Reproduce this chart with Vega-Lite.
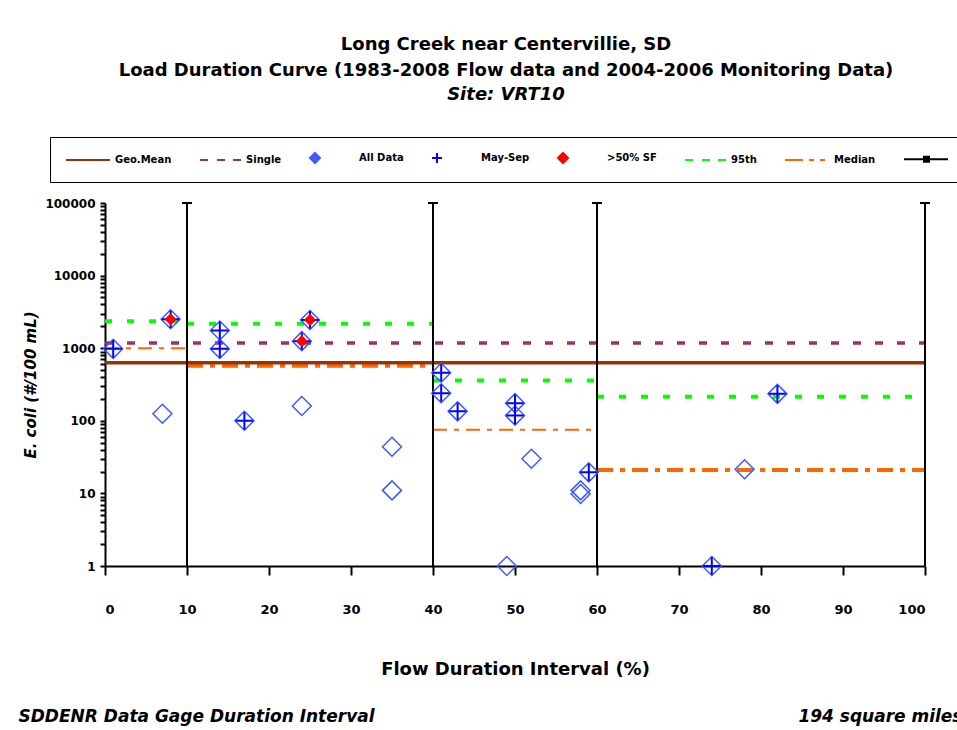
{
  "$schema": "https://vega.github.io/schema/vega-lite/v6.json",
  "width": 820,
  "height": 363,
  "autosize": "none",
  "padding": {"left": 105, "top": 203, "right": 32, "bottom": 164},
  "background": "white",
  "config": {"view": {"stroke": null}, "font": "DejaVu Sans"},
  "title": {
    "text": ["Long Creek near Centervillie, SD", "Load Duration Curve   (1983-2008 Flow data and 2004-2006 Monitoring Data)"],
    "subtitle": "Site:  VRT10",
    "anchor": "middle",
    "dx": -9,
    "font": "DejaVu Sans",
    "fontSize": 18,
    "fontWeight": "bold",
    "color": "black",
    "lineHeight": 26,
    "subtitleFont": "DejaVu Sans",
    "subtitleFontSize": 18,
    "subtitleFontStyle": "italic",
    "subtitleFontWeight": "bold",
    "subtitleColor": "black",
    "subtitlePadding": 6,
    "offset": 33
  },
  "resolve": {"axis": {"x": "independent", "y": "independent"}},
  "datasets": {
    "samples": [
      {"fdi": 1, "ecoli": 980, "maysep": true, "sf50": false},
      {"fdi": 7, "ecoli": 125, "maysep": false, "sf50": false},
      {"fdi": 8, "ecoli": 2500, "maysep": true, "sf50": true},
      {"fdi": 14, "ecoli": 1750, "maysep": true, "sf50": false},
      {"fdi": 14, "ecoli": 980, "maysep": true, "sf50": false},
      {"fdi": 17, "ecoli": 100, "maysep": true, "sf50": false},
      {"fdi": 24, "ecoli": 1250, "maysep": true, "sf50": true},
      {"fdi": 24, "ecoli": 160, "maysep": false, "sf50": false},
      {"fdi": 25, "ecoli": 2450, "maysep": true, "sf50": true},
      {"fdi": 35, "ecoli": 44, "maysep": false, "sf50": false},
      {"fdi": 35, "ecoli": 11, "maysep": false, "sf50": false},
      {"fdi": 41, "ecoli": 460, "maysep": true, "sf50": false},
      {"fdi": 41, "ecoli": 240, "maysep": true, "sf50": false},
      {"fdi": 43, "ecoli": 135, "maysep": true, "sf50": false},
      {"fdi": 49, "ecoli": 1, "maysep": false, "sf50": false},
      {"fdi": 50, "ecoli": 175, "maysep": true, "sf50": false},
      {"fdi": 50, "ecoli": 118, "maysep": true, "sf50": false},
      {"fdi": 52, "ecoli": 30, "maysep": false, "sf50": false},
      {"fdi": 58, "ecoli": 11, "maysep": false, "sf50": false},
      {"fdi": 58, "ecoli": 9.8, "maysep": false, "sf50": false},
      {"fdi": 59, "ecoli": 19.5, "maysep": true, "sf50": false},
      {"fdi": 74, "ecoli": 1, "maysep": true, "sf50": false},
      {"fdi": 78, "ecoli": 21.5, "maysep": false, "sf50": false},
      {"fdi": 82, "ecoli": 235, "maysep": true, "sf50": false}
    ],
    "lines": [
      {"series": "Geo.Mean", "zone": "All", "from": 0, "to": 100, "value": 630},
      {"series": "Single", "zone": "All", "from": 0, "to": 100, "value": 1178},
      {"series": "95th", "zone": "High Flows", "from": 0, "to": 10, "value": 2350},
      {"series": "95th", "zone": "Moist Conditions", "from": 10, "to": 40, "value": 2180},
      {"series": "95th", "zone": "Mid-Range Flows", "from": 40, "to": 60, "value": 360},
      {"series": "95th", "zone": "Dry Conditions", "from": 60, "to": 100, "value": 215},
      {"series": "Median", "zone": "High Flows", "from": 0, "to": 10, "value": 1000},
      {"series": "Median", "zone": "Moist Conditions", "from": 10, "to": 40, "value": 575},
      {"series": "Median", "zone": "Mid-Range Flows", "from": 40, "to": 60, "value": 75},
      {"series": "Median", "zone": "Dry Conditions", "from": 60, "to": 100, "value": 21}
    ],
    "zones": [{"boundary": 10}, {"boundary": 40}, {"boundary": 60}, {"boundary": 100}]
  },
  "layer": [
    {
      "data": {"name": "lines"},
      "transform": [{"filter": "datum.series === 'Median' && (datum.zone === 'High Flows' || datum.zone === 'Mid-Range Flows')"}],
      "mark": {"type": "rule", "strokeDash": [14, 7, 5, 7], "strokeWidth": 2},
      "encoding": {
        "x": {"field": "from", "type": "quantitative", "axis": null},
        "x2": {"field": "to"},
        "y": {"field": "value", "type": "quantitative", "axis": null},
        "color": {"datum": "Median"}
      }
    },
    {
      "data": {"name": "lines"},
      "transform": [{"filter": "datum.series === 'Median' && (datum.zone === 'Moist Conditions' || datum.zone === 'Dry Conditions')"}],
      "mark": {"type": "rule", "strokeDash": [16, 7, 5, 7], "strokeWidth": 4},
      "encoding": {
        "x": {"field": "from", "type": "quantitative", "axis": null},
        "x2": {"field": "to"},
        "y": {"field": "value", "type": "quantitative", "axis": null},
        "color": {"datum": "Median"}
      }
    },
    {
      "data": {"name": "lines"},
      "transform": [{"filter": "datum.series === '95th'"}],
      "mark": {"type": "rule", "strokeDash": [7, 15], "strokeWidth": 4},
      "encoding": {
        "x": {"field": "from", "type": "quantitative", "axis": null},
        "x2": {"field": "to"},
        "y": {"field": "value", "type": "quantitative", "axis": null},
        "color": {"datum": "95th"}
      }
    },
    {
      "data": {"name": "lines"},
      "transform": [{"filter": "datum.series === 'Single'"}],
      "mark": {"type": "rule", "strokeDash": [8, 14], "strokeWidth": 3.5},
      "encoding": {
        "x": {"field": "from", "type": "quantitative", "axis": null},
        "x2": {"field": "to"},
        "y": {"field": "value", "type": "quantitative", "axis": null},
        "color": {"datum": "Single"}
      }
    },
    {
      "data": {"name": "lines"},
      "transform": [{"filter": "datum.series === 'Geo.Mean'"}],
      "mark": {"type": "rule", "strokeWidth": 3.5},
      "encoding": {
        "x": {"field": "from", "type": "quantitative", "axis": null},
        "x2": {"field": "to"},
        "y": {"field": "value", "type": "quantitative", "axis": null},
        "color": {"datum": "Geo.Mean"}
      }
    },
    {
      "data": {"name": "zones"},
      "mark": {"type": "rule", "strokeWidth": 2},
      "encoding": {
        "x": {"field": "boundary", "type": "quantitative", "axis": {"orient": "top", "domain": false, "ticks": false, "labels": false, "grid": false, "title": "SDDENR Data Gage Duration Interval", "titleX": -87, "titleY": 513, "titleAlign": "left", "titleAnchor": "start", "titleBaseline": "middle", "titleAngle": 0, "titleFont": "DejaVu Sans", "titleFontSize": 17, "titleFontStyle": "italic", "titleFontWeight": "bold", "titleColor": "black"}},
        "y": {"datum": 1, "type": "quantitative", "axis": {"orient": "right", "domain": false, "ticks": false, "labels": false, "grid": false, "title": "194 square miles", "titleX": 37, "titleY": 513, "titleAlign": "right", "titleBaseline": "middle", "titleAngle": 0, "titleFont": "DejaVu Sans", "titleFontSize": 17, "titleFontStyle": "italic", "titleFontWeight": "bold", "titleColor": "black"}},
        "y2": {"datum": 100000},
        "color": {"datum": " "}
      }
    },
    {
      "data": {"name": "zones"},
      "mark": {"type": "tick", "orient": "horizontal", "size": 10, "thickness": 2, "color": "black", "opacity": 1},
      "encoding": {
        "x": {"field": "boundary", "type": "quantitative", "axis": null},
        "y": {"datum": 100000, "type": "quantitative", "axis": null}
      }
    },
    {
      "data": {"name": "samples"},
      "mark": {"type": "point", "size": 360, "filled": false, "strokeWidth": 1.5, "opacity": 1},
      "encoding": {
        "x": {
          "field": "fdi", "type": "quantitative", "title": "Flow Duration Interval (%)",
          "scale": {"domain": [0, 100], "nice": false, "zero": false},
          "axis": {"orient": "bottom", "values": [0, 10, 20, 30, 40, 50, 60, 70, 80, 90, 100], "format": "d", "grid": false, "tickSize": 9, "tickWidth": 2, "tickColor": "black", "domainColor": "black", "domainWidth": 2, "labelPadding": 28, "labelFont": "DejaVu Sans", "labelFontSize": 13, "labelFontWeight": "bold", "labelColor": "black", "titleFont": "DejaVu Sans", "titleFontSize": 18, "titleFontWeight": "bold", "titleColor": "black", "titlePadding": 44}
        },
        "y": {
          "field": "ecoli", "type": "quantitative", "title": "E. coli (#/100 mL)",
          "scale": {"type": "log", "domain": [1, 100000], "nice": false},
          "axis": {
            "orient": "left",
            "values": [1, 2, 3, 4, 5, 6, 7, 8, 9, 10, 20, 30, 40, 50, 60, 70, 80, 90, 100, 200, 300, 400, 500, 600, 700, 800, 900, 1000, 2000, 3000, 4000, 5000, 6000, 7000, 8000, 9000, 10000, 20000, 30000, 40000, 50000, 60000, 70000, 80000, 90000, 100000],
            "format": "d",
            "labelExpr": "indexof([1,10,100,1000,10000,100000], datum.value) >= 0 ? datum.label : ''",
            "labelOverlap": false,
            "labelBound": false,
            "labelFlush": false,
            "grid": false,
            "tickSize": 5,
            "tickWidth": 2,
            "tickColor": "black",
            "domainColor": "black",
            "domainWidth": 2,
            "labelPadding": 5,
            "labelFont": "DejaVu Sans",
            "labelFontSize": 12,
            "labelFontWeight": "bold",
            "labelColor": "black",
            "titleFont": "DejaVu Sans",
            "titleFontSize": 15,
            "titleFontWeight": "bold",
            "titleFontStyle": "italic",
            "titleColor": "black",
            "titlePadding": 6
          }
        },
        "color": {
          "datum": "All Data",
          "scale": {
            "domain": ["Geo.Mean", "Single", "All Data", "May-Sep", ">50% SF", "95th", "Median", " "],
            "range": ["#993300", "#993366", "#3d5cff", "#0000ff", "#ff0000", "#00ff00", "#ff6600", "#000000"]
          },
          "legend": {
            "orient": "none", "legendX": -55, "legendY": -66, "direction": "horizontal", "columns": 8, "title": null,
            "strokeColor": "black", "padding": 15, "symbolSize": 100, "symbolStrokeWidth": 2, "symbolFillColor": "transparent", "labelOffset": 38, "columnPadding": 24,
            "labelFont": "DejaVu Sans", "labelFontSize": 10, "labelFontWeight": "bold", "labelColor": "black", "labelLimit": 200
          }
        },
        "shape": {
          "datum": "All Data",
          "scale": {
            "domain": ["Geo.Mean", "Single", "All Data", "May-Sep", ">50% SF", "95th", "Median", " "],
            "range": ["M-1,0H7.8", "M-0.4,0H1.2M3,0H4.6M6.2,0H7.8", "diamond", "M-1,0H1M0,-1V1", "diamond", "M-0.4,0H1.2M3,0H4.6M6.2,0H7.8", "M-1,0H2.6M3.8,0H4.8M6,0H7", "M-1,0H7.8M3,-0.5H4V0.5H3Z"]
          },
          "legend": {
            "orient": "none", "legendX": -55, "legendY": -66, "direction": "horizontal", "columns": 8, "title": null,
            "strokeColor": "black", "padding": 15, "symbolSize": 100, "symbolStrokeWidth": 2, "symbolFillColor": "transparent", "labelOffset": 38, "columnPadding": 24,
            "labelFont": "DejaVu Sans", "labelFontSize": 10, "labelFontWeight": "bold", "labelColor": "black", "labelLimit": 200
          }
        }
      }
    },
    {
      "data": {"name": "samples"},
      "transform": [{"filter": "datum.maysep"}],
      "mark": {"type": "point", "size": 300, "filled": false, "strokeWidth": 2, "opacity": 1},
      "encoding": {
        "x": {"field": "fdi", "type": "quantitative", "axis": null},
        "y": {"field": "ecoli", "type": "quantitative", "axis": null},
        "color": {"datum": "May-Sep"},
        "shape": {"datum": "May-Sep"}
      }
    },
    {
      "data": {"name": "samples"},
      "transform": [{"filter": "datum.sf50"}],
      "mark": {"type": "point", "size": 150, "filled": true, "strokeWidth": 0, "opacity": 1},
      "encoding": {
        "x": {"field": "fdi", "type": "quantitative", "axis": null},
        "y": {"field": "ecoli", "type": "quantitative", "axis": null},
        "color": {"datum": ">50% SF"},
        "shape": {"datum": ">50% SF"}
      }
    }
  ]
}
